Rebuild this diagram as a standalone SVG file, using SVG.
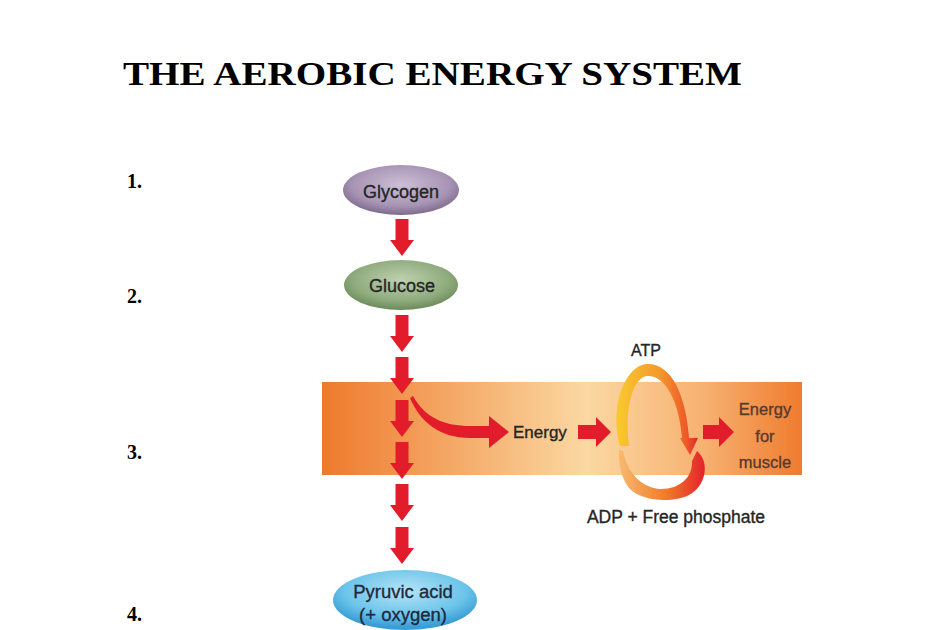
<svg xmlns="http://www.w3.org/2000/svg" xmlns:xlink="http://www.w3.org/1999/xlink" width="927" height="630" viewBox="0 0 927 630">
<style>
.title{font-family:"Liberation Serif","Times New Roman",serif;font-weight:bold;fill:#000}
.num{font-family:"Liberation Serif","Times New Roman",serif;font-weight:bold;font-size:20px;fill:#000}
.lbl{font-family:"Liberation Sans",Arial,sans-serif;fill:#262626;stroke:#262626;stroke-width:0.35}
.brown{fill:#5a3a2c;stroke:#5a3a2c}
.navy{fill:#1f2a3e;stroke:#1f2a3e}
.arrow{fill:#e31c2c}
</style>
<defs>
<linearGradient id="band" x1="0" y1="0" x2="1" y2="0">
<stop offset="0" stop-color="#ee7a2c"/>
<stop offset="0.55" stop-color="#fbd8a2"/>
<stop offset="0.8" stop-color="#f7b070"/>
<stop offset="1" stop-color="#ef7b2e"/>
</linearGradient>
<radialGradient id="gly" cx="0.5" cy="0.4" r="0.6">
<stop offset="0" stop-color="#cdbfd6"/>
<stop offset="0.7" stop-color="#a794b4"/>
<stop offset="1" stop-color="#7d6a8c"/>
</radialGradient>
<radialGradient id="glu" cx="0.5" cy="0.4" r="0.6">
<stop offset="0" stop-color="#bfd1b0"/>
<stop offset="0.7" stop-color="#8fab7d"/>
<stop offset="1" stop-color="#6b8a5a"/>
</radialGradient>
<radialGradient id="pyr" cx="0.5" cy="0.35" r="0.6">
<stop offset="0" stop-color="#b4e4f6"/>
<stop offset="0.7" stop-color="#6cc4ea"/>
<stop offset="1" stop-color="#3a9ed6"/>
</radialGradient>
<linearGradient id="topArc" gradientUnits="userSpaceOnUse" x1="620" y1="440" x2="698" y2="440">
<stop offset="0" stop-color="#f9c62e"/>
<stop offset="0.5" stop-color="#f49a2c"/>
<stop offset="0.85" stop-color="#ee5a28"/>
<stop offset="1" stop-color="#e3262c"/>
</linearGradient>
<linearGradient id="botArc" gradientUnits="userSpaceOnUse" x1="705" y1="460" x2="620" y2="460">
<stop offset="0" stop-color="#e3222c"/>
<stop offset="0.45" stop-color="#f07a28"/>
<stop offset="1" stop-color="#f8b870"/>
</linearGradient>
<path id="down" d="M -6.5,0 H 6.5 V 21 H 12 L 0,37 L -12,21 H -6.5 Z"/>
</defs>

<rect width="927" height="630" fill="#ffffff"/>

<g id="title">
<text class="title" x="123" y="85" font-size="33" textLength="619" lengthAdjust="spacingAndGlyphs">THE AEROBIC ENERGY SYSTEM</text>
</g>

<g id="step-numbers">
<text class="num" x="127" y="188">1.</text>
<text class="num" x="127" y="303">2.</text>
<text class="num" x="127" y="459">3.</text>
<text class="num" x="127" y="621">4.</text>
</g>

<g id="band">
<rect x="322" y="382" width="480" height="93" fill="url(#band)"/>
</g>

<g id="glycogen">
<ellipse cx="401" cy="190" rx="58" ry="25" fill="url(#gly)"/>
<text class="lbl" x="401" y="198" font-size="18" text-anchor="middle">Glycogen</text>
</g>

<g id="glucose">
<ellipse cx="401" cy="285" rx="57" ry="25" fill="url(#glu)"/>
<text class="lbl" x="402" y="292" font-size="18" text-anchor="middle">Glucose</text>
</g>

<g id="pyruvic-acid">
<ellipse cx="405" cy="600" rx="72" ry="30" fill="url(#pyr)"/>
<text class="lbl navy" x="403" y="598" font-size="18.5" text-anchor="middle">Pyruvic acid</text>
<text class="lbl navy" x="403" y="621" font-size="18.5" text-anchor="middle">(+ oxygen)</text>
</g>

<g id="energy">
<text class="lbl" x="513" y="438" font-size="17">Energy</text>
</g>

<g id="atp-cycle">
<path d="M 620,446 C 609,405 626,364 648,364 C 672,364 686,396 689,438 L 698,438 L 690,455 L 680,438 L 682,438 C 679,400 665,376 648,376 C 634,376 624,405 629,446 Z" fill="url(#topArc)"/>
<path d="M 697,451 C 711,463 705,487 689,495 C 673,503 642,502 629,488 C 621,478 618,462 619,450 L 623,451 C 627,472 641,488 661,489 C 680,489 693,477 692,461 Z" fill="url(#botArc)"/>
<text class="lbl" x="646" y="356" font-size="16" text-anchor="middle">ATP</text>
<text class="lbl" x="676" y="523" font-size="17.5" text-anchor="middle">ADP + Free phosphate</text>
</g>

<g id="energy-for-muscle">
<text class="lbl brown" x="765" y="415" font-size="16.5" text-anchor="middle">Energy</text>
<text class="lbl brown" x="765" y="442" font-size="16.5" text-anchor="middle">for</text>
<text class="lbl brown" x="765" y="468" font-size="16.5" text-anchor="middle">muscle</text>
</g>

<g id="connectors">
<use href="#down" xlink:href="#down" class="arrow" x="402" y="219"/>
<use href="#down" xlink:href="#down" class="arrow" x="402" y="315"/>
<use href="#down" xlink:href="#down" class="arrow" x="402" y="357"/>
<use href="#down" xlink:href="#down" class="arrow" x="402" y="400"/>
<use href="#down" xlink:href="#down" class="arrow" x="402" y="442"/>
<use href="#down" xlink:href="#down" class="arrow" x="402" y="484"/>
<use href="#down" xlink:href="#down" class="arrow" x="402" y="527"/>
<path class="arrow" d="M 413,396 C 425,418 445,426 470,426 L 489,426 L 489,416 L 509,432 L 489,448 L 489,438 L 470,438 C 440,438 420,422 410,398 Z"/>
<path class="arrow" d="M 578,425 H 596 V 417 L 611,432 L 596,447 V 439 H 578 Z"/>
<path class="arrow" d="M 703,425 H 719 V 417 L 734,432 L 719,447 V 439 H 703 Z"/>
</g>
</svg>
